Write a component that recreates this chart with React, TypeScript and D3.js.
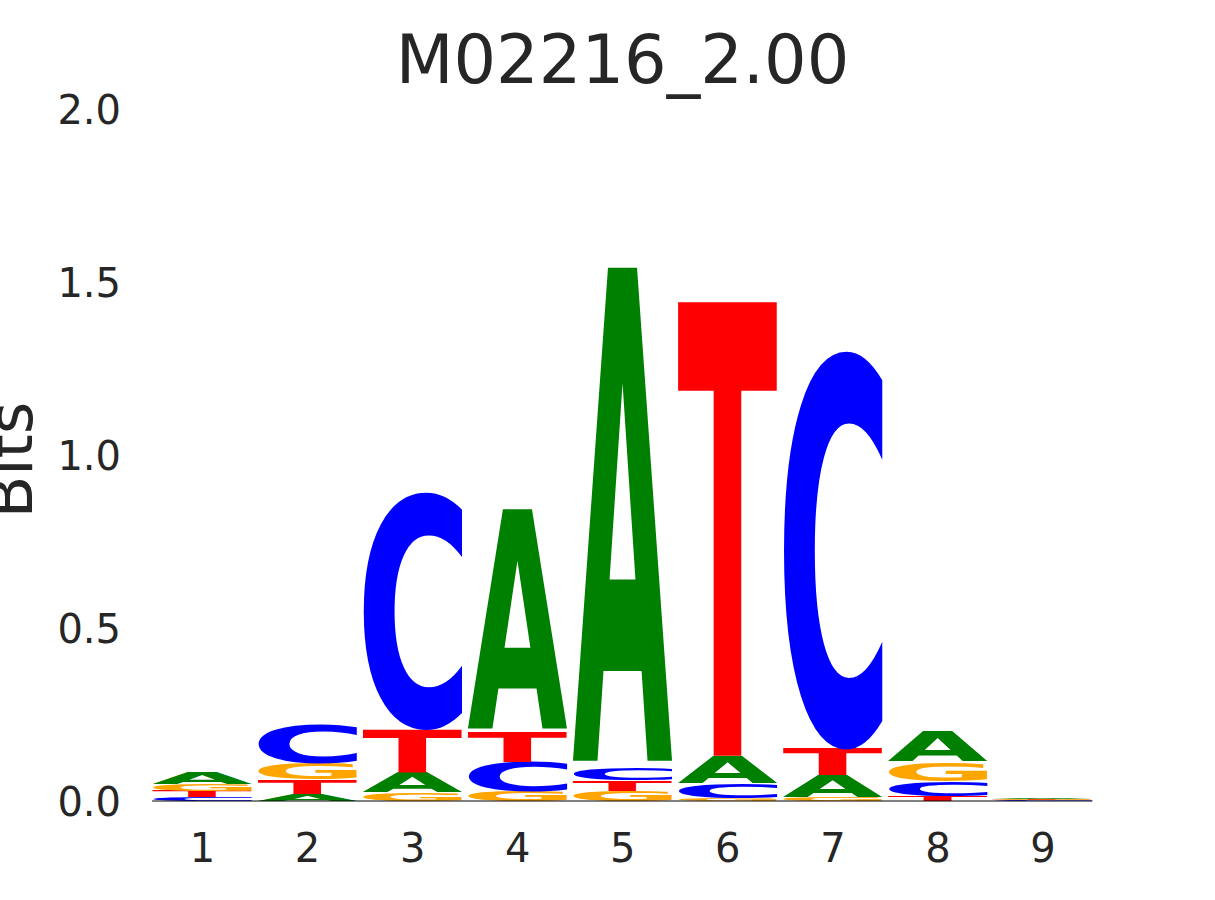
import React, { useRef, useEffect } from 'react';
import * as d3 from 'd3';

// 序列 logo 数据 (bits)，每个位置四个碱基
const positions = [1, 2, 3, 4, 5, 6, 7, 8, 9];
const bitsA = [0.034, 0.020, 0.058, 0.643, 1.446, 0.080, 0.064, 0.087, 0.0030];
const bitsC = [0.012, 0.113, 0.689, 0.084, 0.036, 0.043, 1.155, 0.043, 0.0015];
const bitsG = [0.021, 0.045, 0.024, 0.029, 0.030, 0.008, 0.012, 0.056, 0.0025];
const bitsT = [0.017, 0.042, 0.127, 0.088, 0.031, 1.330, 0.079, 0.014, 0.0020];
const yTicks = [0, 0.5, 1.0, 1.5, 2.0];
const title = 'M02216_2.00';

const letterColors: Record<string, string> = {
  A: '#008000',
  C: '#0000ff',
  G: '#ffa500',
  T: '#ff0000',
};

const FONT = '"DejaVu Sans", sans-serif';
const TEXT_COLOR = '#262626';

export default function App() {
  const svgRef = useRef<SVGSVGElement>(null);

  useEffect(() => {
    if (!svgRef.current) return;
    const svg = d3.select(svgRef.current);
    svg.selectAll('*').remove();

    const x = d3.scaleLinear().domain([1, 9]).range([202, 1042.5]);
    const y = d3.scaleLinear().domain([0, 2]).range([801, 109]);
    const step = x(2) - x(1);
    const letterW = step * 0.95;

    // 用 canvas 量字形的实际墨迹边界
    const canvas = document.createElement('canvas');
    const ctx = canvas.getContext('2d')!;
    ctx.font = `bold 100px ${FONT}`;
    const metrics: Record<string, { l: number; r: number; a: number; d: number }> = {};
    ['A', 'C', 'G', 'T'].forEach(ch => {
      const m = ctx.measureText(ch);
      metrics[ch] = {
        l: m.actualBoundingBoxLeft,
        r: m.actualBoundingBoxRight,
        a: m.actualBoundingBoxAscent,
        d: m.actualBoundingBoxDescent,
      };
    });

    // 标题
    svg.append('text')
      .attr('x', 622.5)
      .attr('y', 83)
      .attr('text-anchor', 'middle')
      .style('font-family', FONT)
      .style('font-size', '67px')
      .style('fill', TEXT_COLOR)
      .text(title);

    // y 轴标签
    svg.append('text')
      .attr('transform', 'translate(32,460) rotate(-90)')
      .attr('text-anchor', 'middle')
      .style('font-family', FONT)
      .style('font-size', '62px')
      .style('fill', TEXT_COLOR)
      .text('Bits');

    // y 轴
    const yAxis = svg.append('g')
      .attr('transform', `translate(152,0)`)
      .call(d3.axisLeft(y).tickValues(yTicks).tickSize(0).tickPadding(31).tickFormat(d3.format('.1f')));
    yAxis.select('.domain').remove();
    yAxis.selectAll('text')
      .attr('dy', '0.36em')
      .style('font-family', FONT)
      .style('font-size', '40px')
      .style('fill', TEXT_COLOR);

    // x 轴
    const xAxis = svg.append('g')
      .attr('transform', `translate(0,${y(0)})`)
      .call(d3.axisBottom(x).tickValues(positions).tickSize(0).tickPadding(33).tickFormat(d3.format('d')));
    xAxis.select('.domain').remove();
    xAxis.selectAll('text')
      .style('font-family', FONT)
      .style('font-size', '40px')
      .style('fill', TEXT_COLOR);

    // 字母堆叠
    const letters = svg.append('g').attr('class', 'letters');
    positions.forEach((p, i) => {
      const col = [
        { ch: 'A', v: bitsA[i] },
        { ch: 'C', v: bitsC[i] },
        { ch: 'G', v: bitsG[i] },
        { ch: 'T', v: bitsT[i] },
      ].sort((a, b) => a.v - b.v);
      let base = 0;
      const x0 = x(p) - letterW / 2;
      col.forEach(({ ch, v }) => {
        const top = y(base + v);
        const h = y(base) - top;
        const m = metrics[ch];
        const sx = letterW / (m.l + m.r);
        const sy = h / (m.a + m.d);
        letters.append('text')
          .attr('transform', `translate(${x0},${top}) scale(${sx},${sy}) translate(${m.l},${m.a})`)
          .style('font-family', FONT)
          .style('font-weight', 'bold')
          .style('font-size', '100px')
          .style('fill', letterColors[ch])
          .text(ch);
        base += v;
      });
    });

    // 基线
    svg.append('line')
      .attr('x1', x(1) - letterW / 2)
      .attr('x2', x(9) + letterW / 2)
      .attr('y1', y(0))
      .attr('y2', y(0))
      .attr('stroke', '#000')
      .attr('stroke-width', 1);
  }, []);

  return (
    <svg
      ref={svgRef}
      width={1215}
      height={900}
      style={{ position: 'absolute', left: 0, top: 0, background: '#fff' }}
    />
  );
}
